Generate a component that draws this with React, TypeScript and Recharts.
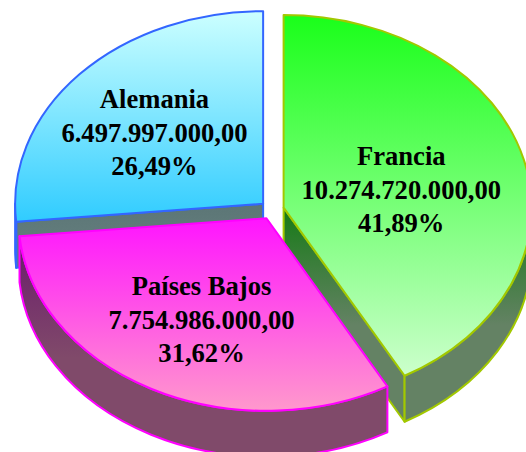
import React from 'react';
import { PieChart, Pie } from 'recharts';

// ---- data ----
const categories = ['Francia', 'Países Bajos', 'Alemania'];
const values = [10274720000, 7754986000, 6497997000];

// ---- styles ----
const topColors = [
  ['#1aff1a', '#ccffcc'],
  ['#ff14ff', '#ff99cc'],
  ['#ccffff', '#30ccff'],
];
const sideColors = [
  ['#167a16', '#648264'],
  ['#6a1a6c', '#804a6a'],
  ['#5c7676', '#627c7c'],
];
const strokeColors = ['#a2c800', '#ff00ff', '#3366ff'];

const data = categories.map((name, i) => ({ name, value: values[i] }));

const K = 0.7764; // vertical squash of the tilted pie
const DEPTH = 46; // thickness of the 3D slab
const EXPLODE = 12; // explode distance
const RAD = Math.PI / 180;
const FONT = '"Liberation Serif", "Times New Roman", Times, serif';

function formatNumber(v: number): string {
  const s = Math.round(v).toString();
  let out = '';
  for (let i = 0; i < s.length; i++) {
    const fromEnd = s.length - i;
    out += s[i];
    if (fromEnd > 1 && (fromEnd - 1) % 3 === 0) out += '.';
  }
  return out + ',00';
}

function geom(p: any) {
  const a1 = Math.min(p.startAngle, p.endAngle);
  const a2 = Math.max(p.startAngle, p.endAngle);
  const mid = (a1 + a2) / 2;
  const r = p.outerRadius;
  const ox = p.cx + EXPLODE * Math.cos(mid * RAD);
  const oy = p.cy - K * EXPLODE * Math.sin(mid * RAD);
  const pt = (a: number, dy = 0) => [ox + r * Math.cos(a * RAD), oy - K * r * Math.sin(a * RAD) + dy];
  return { a1, a2, mid, r, ox, oy, pt };
}

function renderSlice(p: any, layer: 'back' | 'front') {
  const { a1, a2, mid, r, ox, oy, pt } = geom(p);
  const isBack = Math.sin(mid * RAD) > 0;
  if ((layer === 'back') !== isBack) return <g />;
  const i = p.index;
  const ry = K * r;
  const p1 = pt(a1);
  const p2 = pt(a2);
  const large = a2 - a1 > 180 ? 1 : 0;
  const topPath = `M${ox},${oy} L${p2[0]},${p2[1]} A${r},${ry} 0 ${large} 1 ${p1[0]},${p1[1]} Z`;

  const faces: string[] = [];
  if (Math.cos(a1 * RAD) > 0.001) {
    faces.push(`M${ox},${oy} L${p1[0]},${p1[1]} L${p1[0]},${p1[1] + DEPTH} L${ox},${oy + DEPTH} Z`);
  }
  if (Math.cos(a2 * RAD) < -0.001) {
    faces.push(`M${ox},${oy} L${p2[0]},${p2[1]} L${p2[0]},${p2[1] + DEPTH} L${ox},${oy + DEPTH} Z`);
  }
  const walls: string[] = [];
  for (let k = -1; k <= 1; k++) {
    const lo = Math.max(a1, -180 + 360 * k);
    const hi = Math.min(a2, 360 * k);
    if (hi - lo > 0.01) {
      const b1 = pt(lo);
      const b2 = pt(hi);
      const lg = hi - lo > 180 ? 1 : 0;
      walls.push(
        `M${b2[0]},${b2[1]} A${r},${ry} 0 ${lg} 1 ${b1[0]},${b1[1]} L${b1[0]},${b1[1] + DEPTH} A${r},${ry} 0 ${lg} 0 ${b2[0]},${b2[1] + DEPTH} Z`
      );
    }
  }
  const stroke = strokeColors[i];
  return (
    <g>
      <defs>
        <linearGradient id={`top-${i}`} x1="0" y1="0" x2="0" y2="1">
          <stop offset="0%" stopColor={topColors[i][0]} />
          <stop offset="100%" stopColor={topColors[i][1]} />
        </linearGradient>
        <linearGradient id={`side-${i}`} x1="0" y1="0" x2="0" y2="1">
          <stop offset="0%" stopColor={sideColors[i][0]} />
          <stop offset="55%" stopColor={sideColors[i][1]} />
          <stop offset="100%" stopColor={sideColors[i][1]} />
        </linearGradient>
      </defs>
      {faces.map((d, j) => (
        <path key={`f${j}`} d={d} fill={`url(#side-${i})`} stroke={stroke} strokeWidth={2} strokeLinejoin="round" />
      ))}
      {walls.map((d, j) => (
        <path key={`w${j}`} d={d} fill={`url(#side-${i})`} stroke={stroke} strokeWidth={2} strokeLinejoin="round" />
      ))}
      <path d={topPath} fill={`url(#top-${i})`} stroke={stroke} strokeWidth={2} strokeLinejoin="round" />
    </g>
  );
}

function renderText(p: any) {
  const { a1, a2, mid, r, ox, oy } = geom(p);
  const alpha = ((a2 - a1) / 2) * RAD;
  const d = (2 * r * Math.sin(alpha)) / (3 * alpha);
  const x = ox + d * Math.cos(mid * RAD);
  const y = oy - K * d * Math.sin(mid * RAD) + 6;
  const pct = (p.percent * 100).toFixed(2).replace('.', ',') + '%';
  const lh = 33.5;
  const base = y + 8.8;
  return (
    <text textAnchor="middle" style={{ fontFamily: FONT, fontWeight: 700, fontSize: 26.6 }} fill="#000000">
      <tspan x={x} y={base - lh}>{p.name}</tspan>
      <tspan x={x} y={base}>{formatNumber(p.value)}</tspan>
      <tspan x={x} y={base + lh}>{pct}</tspan>
    </text>
  );
}

export default function App() {
  const common = {
    data,
    dataKey: 'value',
    nameKey: 'name',
    cx: 272,
    cy: 210,
    outerRadius: 248,
    startAngle: 90,
    endAngle: -270,
    fill: 'none',
    stroke: 'none',
    isAnimationActive: false,
    labelLine: false,
  };
  return (
    <div style={{ position: 'absolute', left: 0, top: 0, width: 526, height: 452, background: '#ffffff' }}>
      <PieChart width={526} height={452} margin={{ top: 0, right: 0, bottom: 0, left: 0 }}>
        <Pie {...(common as any)} label={(p: any) => renderSlice(p, 'back')} />
        <Pie {...(common as any)} label={(p: any) => renderSlice(p, 'front')} />
        <Pie {...(common as any)} label={renderText} />
      </PieChart>
    </div>
  );
}
